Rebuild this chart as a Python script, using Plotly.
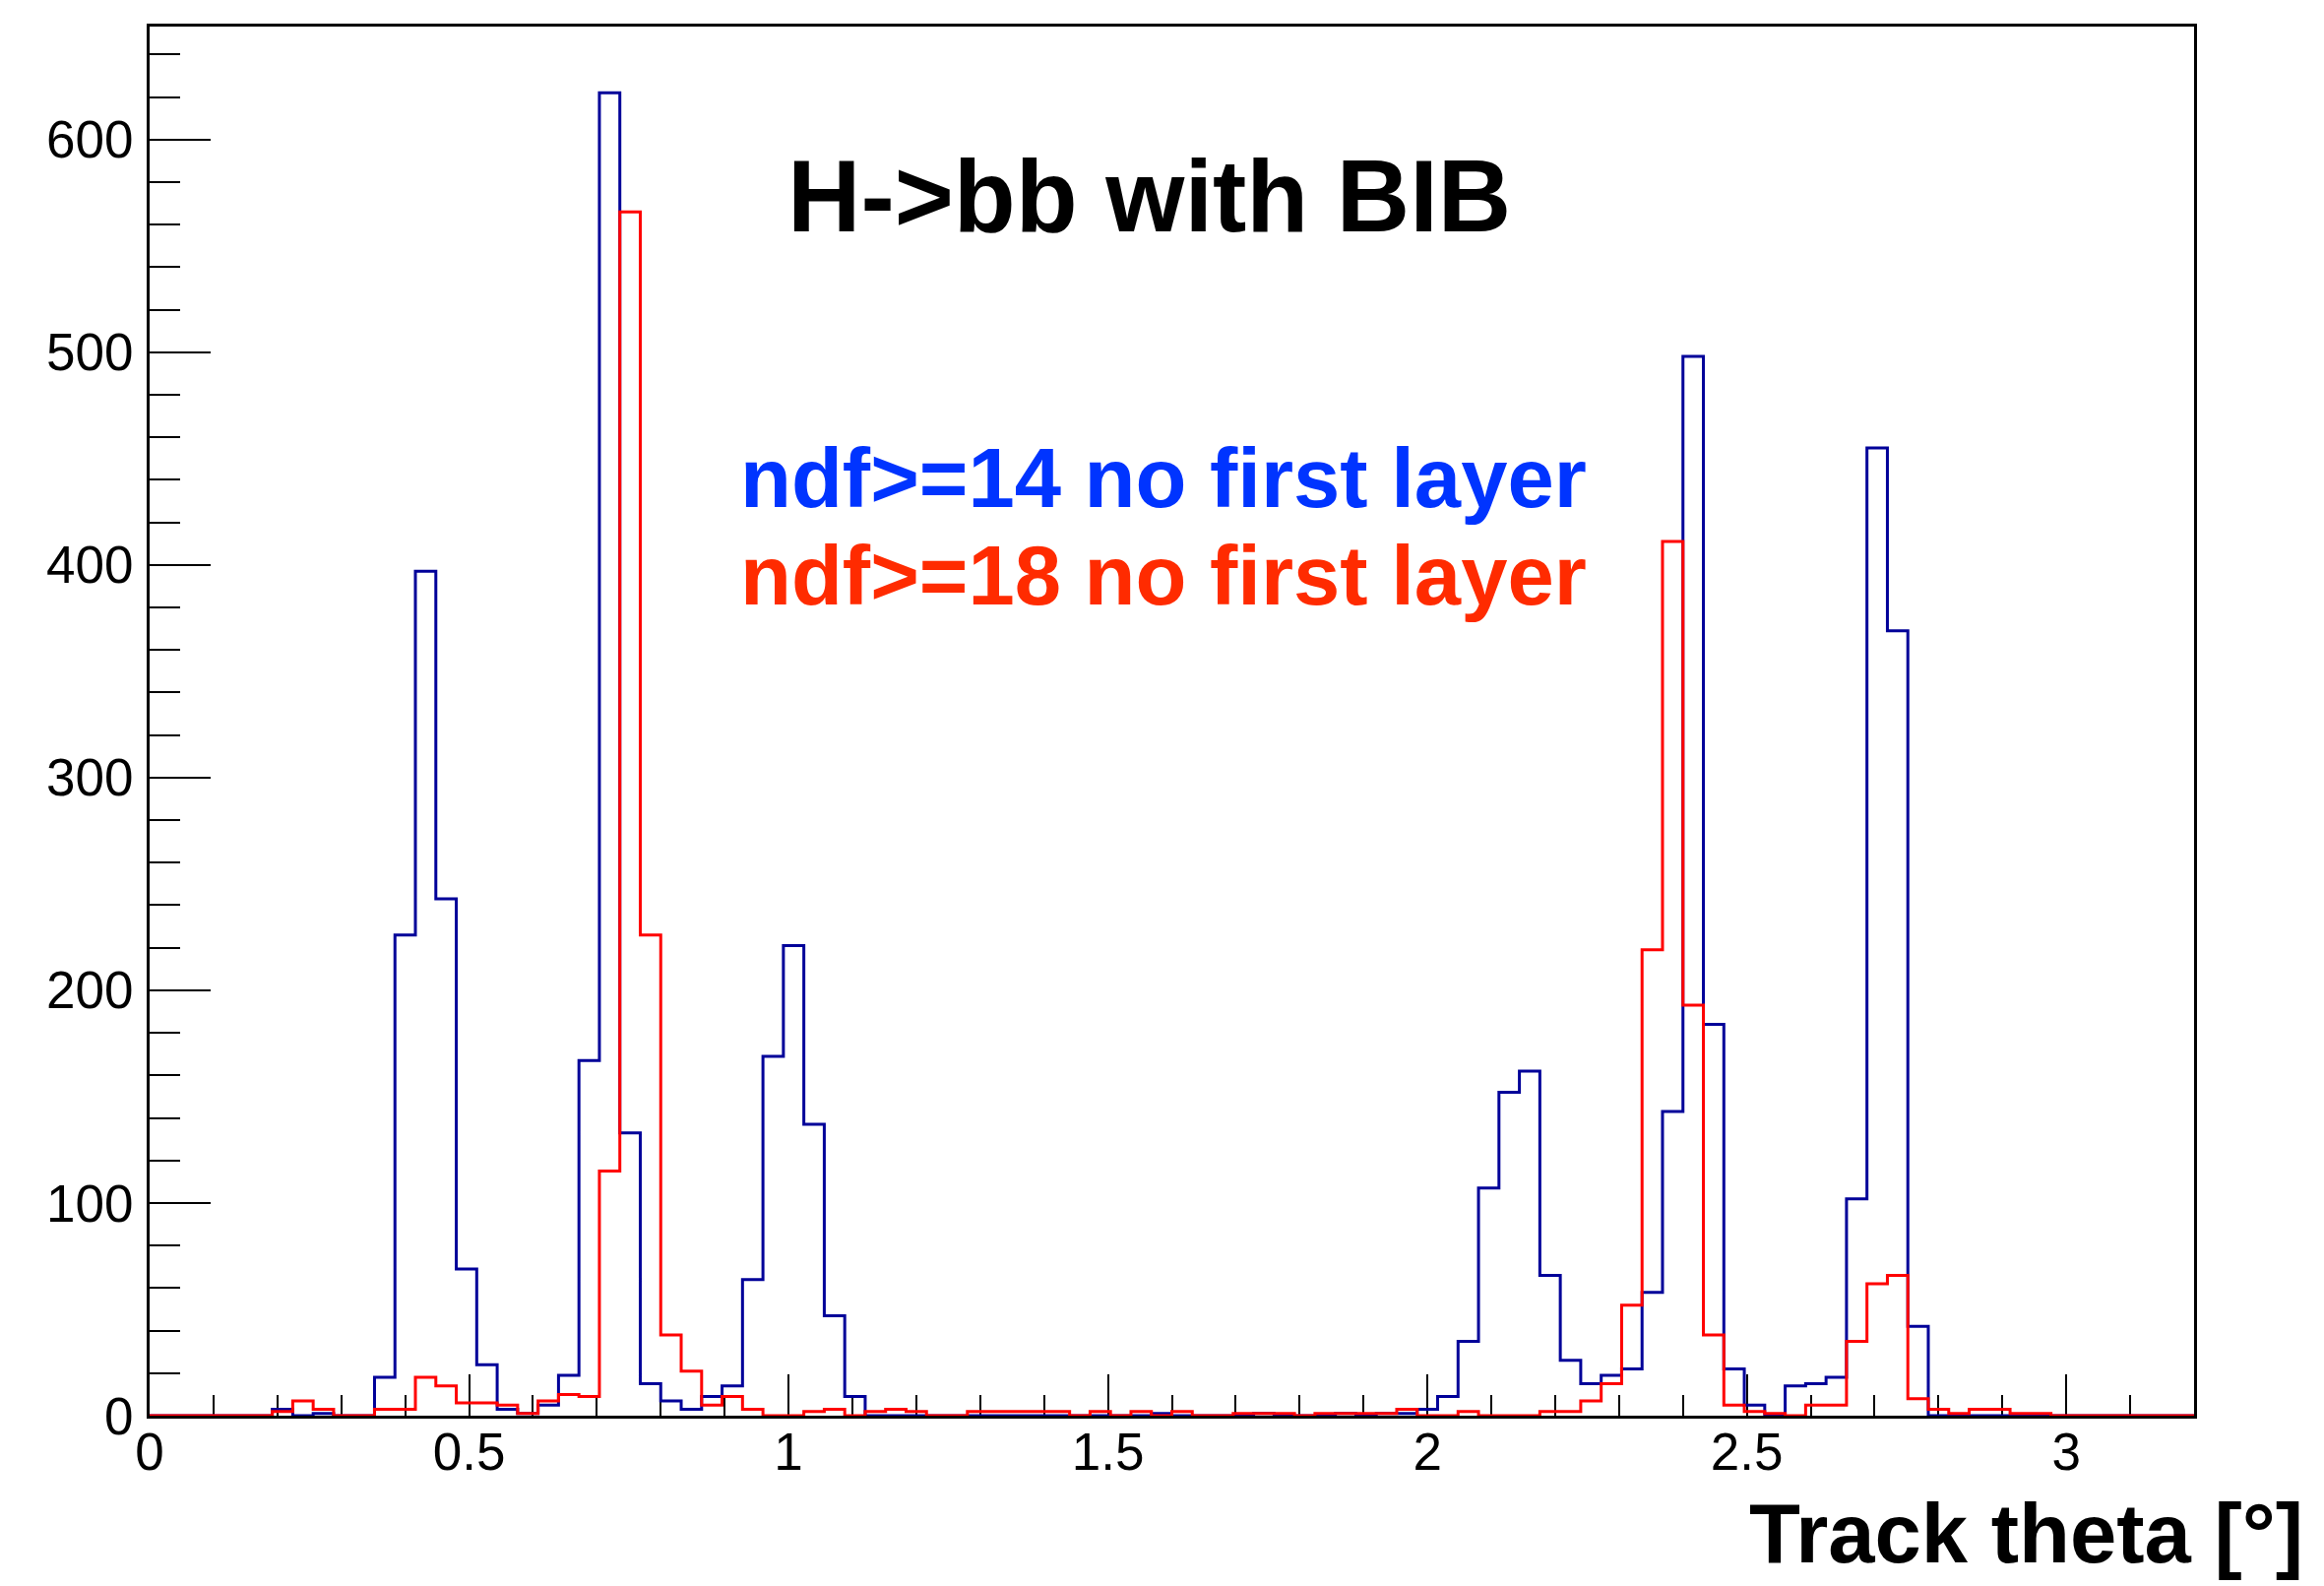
import numpy as np
import plotly.graph_objects as go

# ---------------- data ----------------
theta_min = 0.0
theta_max = 3.2
n_bins = 100

counts_ndf14 = [
    0, 0, 0, 0, 0, 0, 3, 0, 1, 0,
    0, 18, 226, 397, 243, 69, 24, 3, 1, 5,
    19, 167, 622, 133, 15, 7, 3, 9, 14, 64,
    169, 221, 137, 47, 9, 0, 0, 0, 0, 0,
    0, 0, 0, 0, 0, 0, 0, 0, 0, 1,
    0, 0, 0, 0, 1, 0, 0, 0, 1, 0,
    1, 1, 3, 9, 35, 107, 152, 162, 66, 26,
    15, 19, 22, 58, 143, 498, 184, 22, 5, 0,
    14, 15, 18, 102, 455, 369, 42, 0, 0, 0,
    0, 0, 0, 0, 0, 0, 0, 0, 0, 0,
]

counts_ndf18 = [
    0, 0, 0, 0, 0, 0, 2, 7, 3, 0,
    0, 3, 3, 18, 14, 6, 6, 5, 1, 7,
    10, 9, 115, 566, 226, 38, 21, 5, 9, 3,
    0, 0, 2, 3, 0, 2, 3, 2, 0, 0,
    2, 2, 2, 2, 2, 0, 2, 0, 2, 0,
    2, 0, 0, 1, 1, 1, 0, 1, 1, 1,
    1, 3, 0, 0, 2, 0, 0, 0, 2, 2,
    7, 15, 52, 219, 411, 193, 38, 5, 2, 1,
    0, 5, 5, 35, 62, 66, 8, 3, 1, 3,
    3, 1, 1, 0, 0, 0, 0, 0, 0, 0,
]

x_tick_vals = [0, 0.5, 1, 1.5, 2, 2.5, 3]
y_tick_vals = [0, 100, 200, 300, 400, 500, 600]

title_text = "H->bb with BIB"
label_ndf14 = "ndf>=14 no first layer"
label_ndf18 = "ndf>=18 no first layer"
x_title = "Track theta [°]"

# ---------------- figure ----------------
edges = np.linspace(theta_min, theta_max, n_bins + 1)


def step_y(counts):
    return list(counts) + [counts[-1]]


y_max = 1.05 * max(max(counts_ndf14), max(counts_ndf18))

fig = go.Figure()
fig.add_trace(go.Scatter(
    x=edges, y=step_y(counts_ndf14), mode="lines", line_shape="hv",
    line=dict(color="#000099", width=3), hoverinfo="skip", name=label_ndf14,
))
fig.add_trace(go.Scatter(
    x=edges, y=step_y(counts_ndf18), mode="lines", line_shape="hv",
    line=dict(color="#ff0000", width=3), hoverinfo="skip", name=label_ndf18,
))

tick_font = dict(family="Liberation Sans, Arial, sans-serif", size=53, color="black")

fig.update_xaxes(
    range=[theta_min, theta_max], tickvals=x_tick_vals,
    ticks="inside", ticklen=42, tickwidth=2, tickcolor="black",
    minor=dict(dtick=0.1, tick0=0, ticks="inside", ticklen=21, tickwidth=2,
               tickcolor="black", showgrid=False),
    showline=True, linecolor="black", linewidth=3, mirror=True,
    showgrid=False, zeroline=False, tickfont=tick_font, layer="below traces",
    ticklabelstandoff=-12,
)
fig.update_yaxes(
    range=[0, y_max], tickvals=y_tick_vals,
    ticks="inside", ticklen=62, tickwidth=2, tickcolor="black",
    minor=dict(dtick=20, tick0=0, ticks="inside", ticklen=31, tickwidth=2,
               tickcolor="black", showgrid=False),
    showline=True, linecolor="black", linewidth=3, mirror=True,
    showgrid=False, zeroline=False, tickfont=tick_font, layer="below traces",
    ticklabelstandoff=3,
)

bold = "Liberation Sans, Arial, sans-serif"
fig.add_annotation(text="<b>" + title_text.replace(">", "&gt;") + "</b>",
                   xref="paper", yref="paper", x=0.311, y=0.878,
                   xanchor="left", yanchor="middle", showarrow=False,
                   font=dict(family=bold, size=103, color="black"))
fig.add_annotation(text="<b>" + label_ndf14.replace(">", "&gt;") + "</b>",
                   xref="paper", yref="paper", x=0.288, y=0.6754,
                   xanchor="left", yanchor="middle", showarrow=False,
                   font=dict(family=bold, size=85, color="#0034ff"))
fig.add_annotation(text="<b>" + label_ndf18.replace(">", "&gt;") + "</b>",
                   xref="paper", yref="paper", x=0.288, y=0.6052,
                   xanchor="left", yanchor="middle", showarrow=False,
                   font=dict(family=bold, size=85, color="#ff2b00"))
fig.add_annotation(text="<b>" + x_title + "</b>",
                   xref="paper", yref="paper", x=1.054, y=-0.0845,
                   xanchor="right", yanchor="middle", showarrow=False,
                   borderpad=0,
                   font=dict(family=bold, size=85, color="black"))

fig.update_layout(
    width=2361, height=1611,
    margin=dict(l=152, r=132, t=27, b=173, pad=0),
    paper_bgcolor="white", plot_bgcolor="white",
    showlegend=False,
)

fig.write_html("out.html")
